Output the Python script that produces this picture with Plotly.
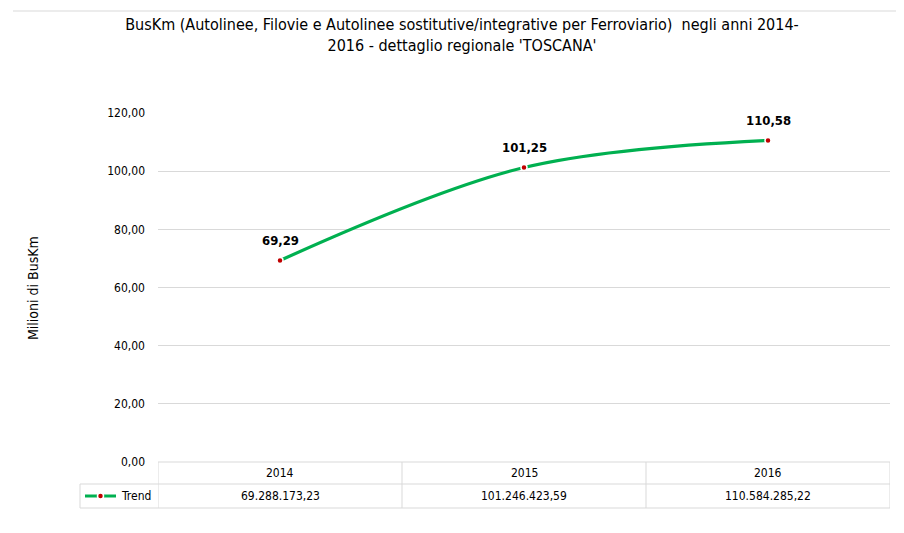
import plotly.graph_objects as go

years = ["2014", "2015", "2016"]
values_full = [69288173.23, 101246423.59, 110584285.22]
values_mil = [v / 1e6 for v in values_full]
table_labels = ["69.288.173,23", "101.246.423,59", "110.584.285,22"]
point_labels = ["69,29", "101,25", "110,58"]
series_name = "Trend"

FONT = "Liberation Sans Narrow, DejaVu Sans Condensed, Roboto, sans-serif"
GREEN = "#00B050"
RED = "#C00000"
GRID = "#D9D9D9"

xs = list(range(len(years)))

# page body has an 8px margin: work in screen pixels and subtract it
OFF = 8
W, H = 904 - OFF, 533 - OFF
L = 158 - OFF
R = W - (890 - OFF)
T = 113 - OFF
B = H - (462 - OFF)
ph = H - T - B
pw = W - L - R


def py(pix):
    return (462 - pix) / ph


def px(pix):
    return (pix - 158) / pw


fig = go.Figure()
fig.add_trace(go.Scatter(
    x=xs, y=values_mil, mode="lines+markers",
    line=dict(color=GREEN, width=3.2, shape="spline", smoothing=1.0),
    marker=dict(color=RED, size=6, line=dict(color="white", width=1.5)),
    showlegend=False, cliponaxis=False,
))

for x, y, t in zip(xs, values_mil, point_labels):
    fig.add_annotation(x=x, y=y, text="<b>%s</b>" % t, showarrow=False,
                       xanchor="center", yanchor="middle",
                       yshift=20, font=dict(family=FONT, size=13, color="#000000"))

y_top, y_mid, y_bot = py(462), py(484), py(508)
line_style = dict(color=GRID, width=1)
shapes = []
shapes.append(dict(type="line", xref="x", yref="paper", x0=-0.5, x1=len(years) - 0.5, y0=y_top, y1=y_top, line=line_style))
shapes.append(dict(type="line", xref="paper", yref="paper", x0=px(80), x1=1, y0=y_mid, y1=y_mid, line=line_style))
shapes.append(dict(type="line", xref="paper", yref="paper", x0=px(80), x1=1, y0=y_bot, y1=y_bot, line=line_style))
for i in range(len(years) + 1):
    shapes.append(dict(type="line", xref="x", yref="paper", x0=i - 0.5, x1=i - 0.5, y0=y_top, y1=y_bot, line=line_style))
shapes.append(dict(type="line", xref="paper", yref="paper", x0=px(80), x1=px(80), y0=y_mid, y1=y_bot, line=line_style))
ly = py(496)
shapes.append(dict(type="line", xref="paper", yref="paper", x0=px(85), x1=px(116), y0=ly, y1=ly, line=dict(color=GREEN, width=3)))
shapes.append(dict(type="circle", xref="paper", yref="paper", x0=px(97.5), x1=px(103.5), y0=ly - 3 / ph, y1=ly + 3 / ph,
                   fillcolor=RED, line=dict(color="white", width=1.5)))
shapes.append(dict(type="line", xref="paper", yref="paper", x0=px(13), x1=px(904), y0=py(11), y1=py(11), line=dict(color=GRID, width=1)))

for x, yr, lab in zip(xs, years, table_labels):
    fig.add_annotation(x=x, y=py(473), xref="x", yref="paper", text=yr, showarrow=False,
                       xanchor="center", yanchor="middle",
                       font=dict(family=FONT, size=12, color="#000000"))
    fig.add_annotation(x=x, y=py(496), xref="x", yref="paper", text=lab, showarrow=False,
                       xanchor="center", yanchor="middle",
                       font=dict(family=FONT, size=12, color="#000000"))
fig.add_annotation(x=px(119), y=py(496), xref="paper", yref="paper", text=series_name, showarrow=False,
                   xanchor="left", yanchor="middle", font=dict(family=FONT, size=12, color="#000000"))

fig.add_annotation(x=px(33), y=py(288), xref="paper", yref="paper", text="Milioni di BusKm", showarrow=False,
                   xanchor="center", yanchor="middle",
                   textangle=-90, font=dict(family=FONT, size=14, color="#000000"))

fig.update_layout(
    width=W, height=H,
    margin=dict(l=L, r=R, t=T, b=B),
    paper_bgcolor="white", plot_bgcolor="white",
    separators=",.",
    title=dict(text="BusKm (Autolinee, Filovie e Autolinee sostitutive/integrative per Ferroviario)  negli anni 2014-<br>2016 - dettaglio regionale 'TOSCANA'",
               x=(462 - OFF) / W, xanchor="center", y=1 - (30 - OFF) / H, yanchor="top",
               font=dict(family=FONT, size=16, color="#000000")),
    xaxis=dict(range=[-0.5, len(years) - 0.5], showticklabels=False, showgrid=False, zeroline=False,
               showline=False, fixedrange=True),
    yaxis=dict(range=[0, 120], dtick=20, tickformat=".2f", showgrid=True, gridcolor=GRID, gridwidth=1,
               zeroline=False, showline=False, ticks="", ticklabelstandoff=12,
               tickfont=dict(family=FONT, size=12, color="#000000")),
    shapes=shapes,
)

fig.write_html("out.html")
